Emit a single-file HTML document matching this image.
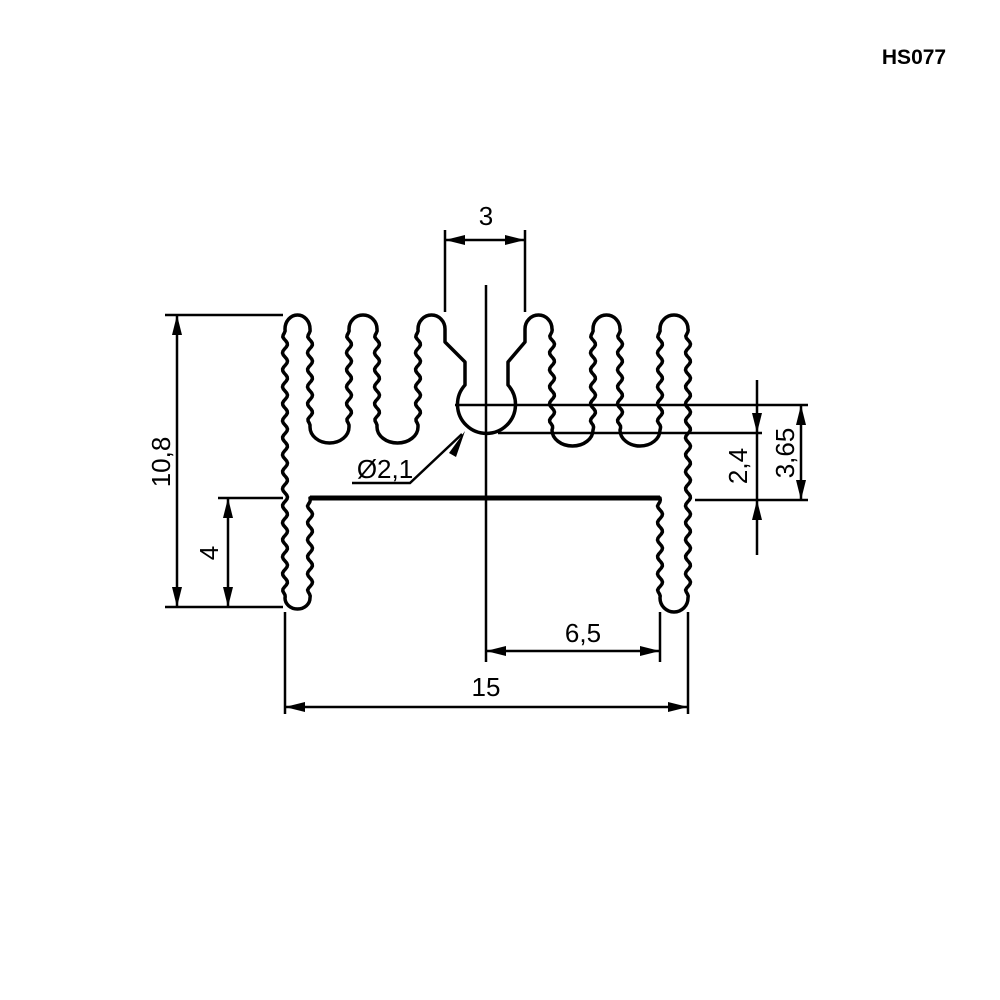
<!DOCTYPE html>
<html><head><style>body{margin:0;background:#fff}svg{display:block}</style></head>
<body>
<svg id="s" width="1000" height="1000" viewBox="0 0 1000 1000" xmlns="http://www.w3.org/2000/svg" font-family="Liberation Sans, sans-serif">
<rect width="1000" height="1000" fill="#fff"/>
<text x="914" y="64" font-size="21" font-weight="bold" text-anchor="middle">HS077</text>
<path id="prof" d="M310,598 L310,498 L660,498 L660,598 A14,14 0 0 0 688,598 L688,329 A14,14 0 0 0 660,329 L660,430 A20,16 0 0 1 620,430 L620,329 A13.5,14 0 0 0 593,329 L593,430 A20.5,16 0 0 1 552,430 L552,329 A13.5,14 0 0 0 525,329 L525,342 L508,362 L508,385 A29,29 0 1 1 465,385 L465,362 L445,342 L445,329 A13.5,14 0 0 0 418,329 L418,427 A20.5,16 0 0 1 377,427 L377,329 A14,14 0 0 0 349,329 L349,427 A19.5,16 0 0 1 310,427 L310,329 A12.5,14 0 0 0 285,329 L285,598 A12.5,11 0 0 0 310,598 Z" fill="none" stroke="#000" stroke-width="3.5" stroke-linejoin="round"/>
<line x1="310" y1="498" x2="660" y2="498" stroke="#000" stroke-width="5"/>
<g stroke="#000" stroke-width="2.5" fill="none">
<line x1="486" y1="285" x2="486" y2="662"/>
<line x1="445" y1="230" x2="445" y2="312"/><line x1="525" y1="230" x2="525" y2="312"/>
<line x1="445" y1="240" x2="525" y2="240"/>
<line x1="455" y1="405" x2="808" y2="405"/>
<line x1="498" y1="433" x2="762" y2="433"/>
<line x1="695" y1="500" x2="808" y2="500"/>
<line x1="757" y1="380" x2="757" y2="555"/>
<line x1="801" y1="405" x2="801" y2="500"/>
<line x1="165" y1="315" x2="283" y2="315"/><line x1="165" y1="607" x2="283" y2="607"/>
<line x1="177" y1="315" x2="177" y2="607"/>
<line x1="218" y1="498" x2="283" y2="498"/>
<line x1="228" y1="498" x2="228" y2="607"/>
<line x1="285" y1="612" x2="285" y2="714"/><line x1="688" y1="612" x2="688" y2="714"/>
<line x1="285" y1="707" x2="688" y2="707"/>
<line x1="660" y1="612" x2="660" y2="662"/>
<line x1="486" y1="651" x2="660" y2="651"/>
<polyline points="352,483 410,483 462,434"/>
</g>
<g fill="#000">
<polygon points="445,240 465,235 465,245"/><polygon points="525,240 505,235 505,245"/>
<polygon points="757,433 752,413 762,413"/><polygon points="757,500 752,520 762,520"/>
<polygon points="801,405 796,425 806,425"/><polygon points="801,500 796,480 806,480"/>
<polygon points="177,315 172,335 182,335"/><polygon points="177,607 172,587 182,587"/>
<polygon points="228,498 223,518 233,518"/><polygon points="228,607 223,587 233,587"/>
<polygon points="285,707 305,702 305,712"/><polygon points="688,707 668,702 668,712"/>
<polygon points="486,651 506,646 506,656"/><polygon points="660,651 640,646 640,656"/>
<polygon points="465,431 449,453 456,457"/>
</g>
<g font-size="26" text-anchor="middle">
<text x="486" y="225">3</text>
<text x="385" y="478">Ø2,1</text>
<text x="486" y="696">15</text>
<text x="583" y="642">6,5</text>
<text transform="translate(170,462) rotate(-90)">10,8</text>
<text transform="translate(218,553) rotate(-90)">4</text>
<text transform="translate(747,466) rotate(-90)">2,4</text>
<text transform="translate(794,453) rotate(-90)">3,65</text>
</g>
</svg>
<script>
(function(){
function w(x,y1,y2){var s="",d=y2>y1?2:-2;for(var y=y1+d;d>0?y<y2:y>y2;y+=d){var t=Math.min(Math.abs(y-y1),Math.abs(y-y2));var a=Math.min(1,t/8)*2.5;s+=" L"+(x+a*Math.sin(y*2*Math.PI/17)).toFixed(1)+","+y;}return s+" L"+x+","+y2;}
var d="M310,598"+w(310,598,498)+" L660,498"+w(660,498,598)+" A14,14 0 0 0 688,598"+w(688,598,329)+" A14,14 0 0 0 660,329"+w(660,329,430)+" A20,16 0 0 1 620,430"+w(620,430,329)+" A13.5,14 0 0 0 593,329"+w(593,329,430)+" A20.5,16 0 0 1 552,430"+w(552,430,329)+" A13.5,14 0 0 0 525,329 L525,342 L508,362 L508,385 A29,29 0 1 1 465,385 L465,362 L445,342 L445,329 A13.5,14 0 0 0 418,329"+w(418,329,427)+" A20.5,16 0 0 1 377,427"+w(377,427,329)+" A14,14 0 0 0 349,329"+w(349,329,427)+" A19.5,16 0 0 1 310,427"+w(310,427,329)+" A12.5,14 0 0 0 285,329"+w(285,329,598)+" A12.5,11 0 0 0 310,598 Z";
document.getElementById("prof").setAttribute("d",d);
})();
</script>
</body></html>
